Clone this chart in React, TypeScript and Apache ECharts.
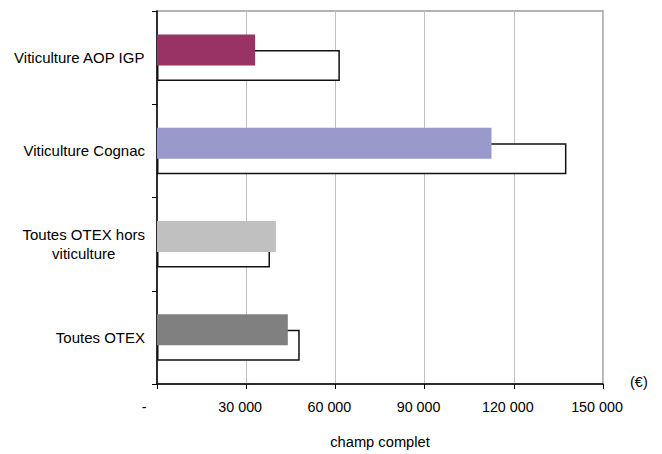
import React, { useEffect, useRef } from "react";
import * as echarts from "echarts";

const categories = [
  "Viticulture AOP IGP",
  "Viticulture Cognac",
  "Toutes OTEX hors\nviticulture",
  "Toutes OTEX",
];
const filledValues = [33000, 112500, 40000, 44000];
const outlineValues = [61500, 137700, 38000, 48000];
const filledColors = ["#993366", "#9999CC", "#C0C0C0", "#808080"];
const xTicks = [0, 30000, 60000, 90000, 120000, 150000];
const unitLabel = "(€)";
const xTitle = "champ complet";

const FONT = "Liberation Sans, Arial, sans-serif";

function fmt(v: number): string {
  if (v === 0) return "{d|-}";
  const s = String(Math.round(v));
  return s.replace(/\B(?=(\d{3})+(?!\d))/g, " ");
}

export default function App() {
  const ref = useRef<HTMLDivElement>(null);
  useEffect(() => {
    document.body.style.margin = "0";
    const chart = echarts.init(ref.current!, null, { renderer: "svg" });
    chart.setOption({
      animation: false,
      backgroundColor: "#ffffff",
      textStyle: { fontFamily: FONT },
      grid: {
        left: 157,
        right: 59,
        top: 11,
        bottom: 65,
        containLabel: false,
        show: true,
        borderColor: "#9a9a9a",
        borderWidth: 1.5,
      },
      xAxis: {
        type: "value",
        min: xTicks[0],
        max: xTicks[xTicks.length - 1],
        interval: xTicks[1] - xTicks[0],
        axisLine: { show: true, lineStyle: { color: "#000", width: 1.5 } },
        axisTick: { show: true, length: 5, lineStyle: { color: "#000" } },
        splitLine: { show: true, lineStyle: { color: "#c0c0c0", width: 1 } },
        axisLabel: {
          margin: 16,
          fontSize: 14.3,
          color: "#000",
          fontFamily: FONT,
          padding: [0, 12, 0, 0],
          formatter: (v: number) => fmt(v),
          rich: { d: { fontSize: 14.3, padding: [0, 14, 0, 0], color: "#000" } },
        },
        name: xTitle,
        nameLocation: "middle",
        nameGap: 50,
        nameTextStyle: { fontSize: 14.7, color: "#000", fontFamily: FONT },
      },
      yAxis: {
        type: "category",
        inverse: true,
        data: categories,
        axisLine: { show: true, lineStyle: { color: "#000", width: 1.5 } },
        axisTick: { show: true, length: 5, lineStyle: { color: "#000" } },
        splitLine: { show: false },
        axisLabel: {
          margin: 12,
          fontSize: 15,
          color: "#000",
          fontFamily: FONT,
          align: "right",
          formatter: (v: string) =>
            v
              .split("\n")
              .map((line) => "{c|" + line + "}")
              .join("\n"),
          rich: {
            c: { fontSize: 15, align: "center", lineHeight: 19, color: "#000", fontFamily: FONT },
          },
        },
      },
      graphic: [
        {
          type: "text",
          left: 630,
          top: 374,
          style: { text: unitLabel, fontSize: 14.5, fill: "#000", fontFamily: FONT },
        },
      ],
      series: [
        {
          type: "bar",
          name: "filled",
          data: filledValues.map((v, i) => ({ value: v, itemStyle: { color: filledColors[i] } })),
          barWidth: 31,
          barGap: "-50%",
          z: 3,
        },
        {
          type: "bar",
          name: "outline",
          data: outlineValues,
          barWidth: 31,
          barGap: "-50%",
          z: 2,
          itemStyle: { color: "#ffffff", borderColor: "#111", borderWidth: 1.5 },
        },
      ],
    });
    return () => chart.dispose();
  }, []);
  return <div ref={ref} style={{ width: 662, height: 454 }} />;
}
